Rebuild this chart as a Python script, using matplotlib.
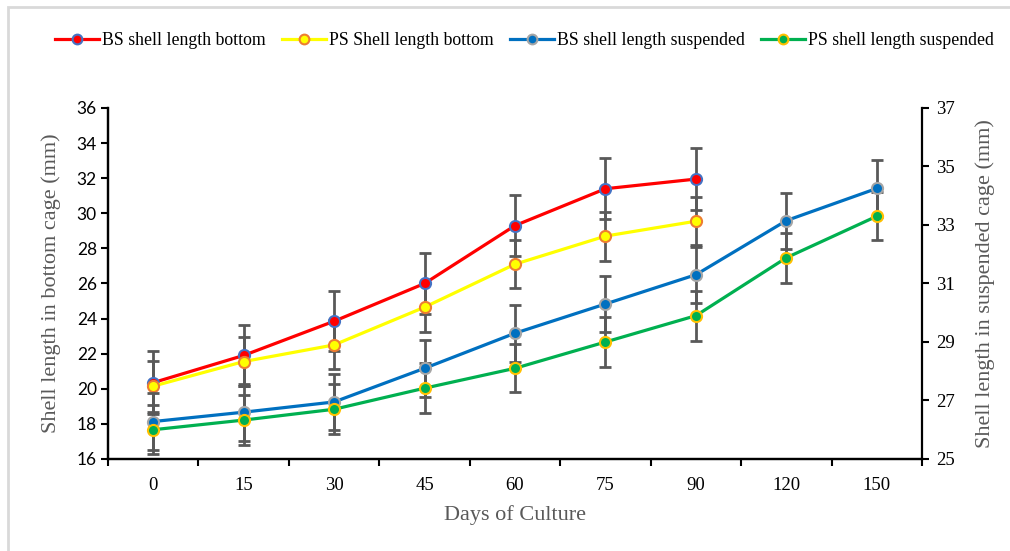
import matplotlib

matplotlib.use("Agg")

import matplotlib.pyplot as plt
from matplotlib.lines import Line2D

# days of culture (categorical x axis)
days = ["0", "15", "30", "45", "60", "75", "90", "120", "150"]

# bottom cage (left axis), sampled up to day 90
bs_bottom = [20.35, 21.9, 23.85, 26.0, 29.3, 31.4, 31.95]
bs_bottom_err = [1.8, 1.75, 1.7, 1.75, 1.75, 1.75, 1.75]
ps_bottom = [20.15, 21.55, 22.5, 24.65, 27.1, 28.7, 29.55]
ps_bottom_err = [1.45, 1.4, 1.4, 1.4, 1.38, 1.4, 1.38]

# suspended cage (right axis)
bs_susp = [26.28, 26.6, 26.95, 28.1, 29.3, 30.3, 31.3, 33.15, 34.25]
bs_susp_err = [0.97, 0.97, 0.97, 0.97, 0.97, 0.96, 0.96, 0.96, 0.97]
ps_susp = [26.0, 26.33, 26.7, 27.42, 28.1, 29.0, 29.9, 31.88, 33.3]
ps_susp_err = [0.84, 0.85, 0.85, 0.86, 0.82, 0.85, 0.85, 0.85, 0.83]

SERIF = ["Liberation Serif", "DejaVu Serif"]
SANS = ["Lato", "DejaVu Sans"]
GRAY_TXT = "#595959"
ERR_COLOR = "#595959"

fig = plt.figure(figsize=(10.1, 5.51), dpi=100)
ax = fig.add_axes([0.1069, 0.167, 0.806, 0.637])
ax2 = ax.twinx()

x_all = list(range(len(days)))
x_bottom = x_all[: len(bs_bottom)]

styles = [
    (ax, x_bottom, bs_bottom, bs_bottom_err, "#FF0000", "#4472C4", "BS shell length bottom"),
    (ax, x_bottom, ps_bottom, ps_bottom_err, "#FFFF00", "#ED7D31", "PS Shell length bottom"),
    (ax2, x_all, bs_susp, bs_susp_err, "#0070C0", "#A5A5A5", "BS shell length suspended"),
    (ax2, x_all, ps_susp, ps_susp_err, "#00B050", "#FFC000", "PS shell length suspended"),
]

handles = []
for a, xs, ys, err, color, edge, label in styles:
    a.errorbar(xs, ys, yerr=err, fmt="none", ecolor=ERR_COLOR, elinewidth=2,
               capsize=4.5, capthick=2, zorder=2)
    a.plot(xs, ys, color=color, linewidth=2.3, marker="o", markersize=8,
           markerfacecolor=color, markeredgecolor=edge, markeredgewidth=1.5, zorder=3)
    handles.append(Line2D([], [], color=color, linewidth=2.3, marker="o", markersize=7,
                          markerfacecolor=color, markeredgecolor=edge,
                          markeredgewidth=1.5, label=label))

ax.set_xlim(-0.5, len(days) - 0.5)
ax.set_ylim(16, 36)
ax.set_yticks(range(16, 37, 2))
ax2.set_ylim(25, 37)
ax2.set_yticks(range(25, 38, 2))

# category labels centred, tick marks on the boundaries
ax.set_xticks(x_all)
ax.set_xticklabels(days, fontfamily=SERIF, fontsize=13.5)
ax.set_xticks([i - 0.5 for i in range(len(days) + 1)], minor=True)
ax.tick_params(axis="x", which="major", length=0, pad=13)
ax.tick_params(axis="x", which="minor", length=5, width=1.5, direction="out")
ax.tick_params(axis="y", length=5, width=1.5, direction="out", pad=3)
ax2.tick_params(axis="y", length=5, width=1.5, direction="out", pad=5)

for lbl in ax.get_yticklabels():
    lbl.set_fontfamily(SANS)
    lbl.set_fontsize(12.5)
for lbl in ax2.get_yticklabels():
    lbl.set_fontfamily(SERIF)
    lbl.set_fontsize(13.5)

for a in (ax, ax2):
    a.spines["top"].set_visible(False)
    for side in ("left", "right", "bottom"):
        a.spines[side].set_linewidth(1.6)
ax.spines["right"].set_visible(False)

ax.set_xlabel("Days of Culture", fontfamily=SERIF, fontsize=16, color=GRAY_TXT, labelpad=8)
ax.set_ylabel("Shell length in bottom cage (mm)", fontfamily=SERIF, fontsize=16,
              color=GRAY_TXT, labelpad=11)
ax2.set_ylabel("Shell length in suspended cage (mm)", fontfamily=SERIF, fontsize=16,
               color=GRAY_TXT, labelpad=15)

fig.legend(handles=handles, loc="center", bbox_to_anchor=(0.519, 0.926), ncol=4,
           frameon=False, prop={"family": SERIF, "size": 12.8}, handlelength=2.5,
           handletextpad=0.15, columnspacing=0.9)

# light frame around the chart area
frame = plt.Rectangle((8 / 1010, -0.02), 1.05, 1 - 7 / 551 + 0.02, transform=fig.transFigure,
                      fill=False, edgecolor="#D9D9D9", linewidth=2, clip_on=False)
fig.patches.append(frame)

fig.savefig("out.png", dpi=100)
plt.close(fig)
